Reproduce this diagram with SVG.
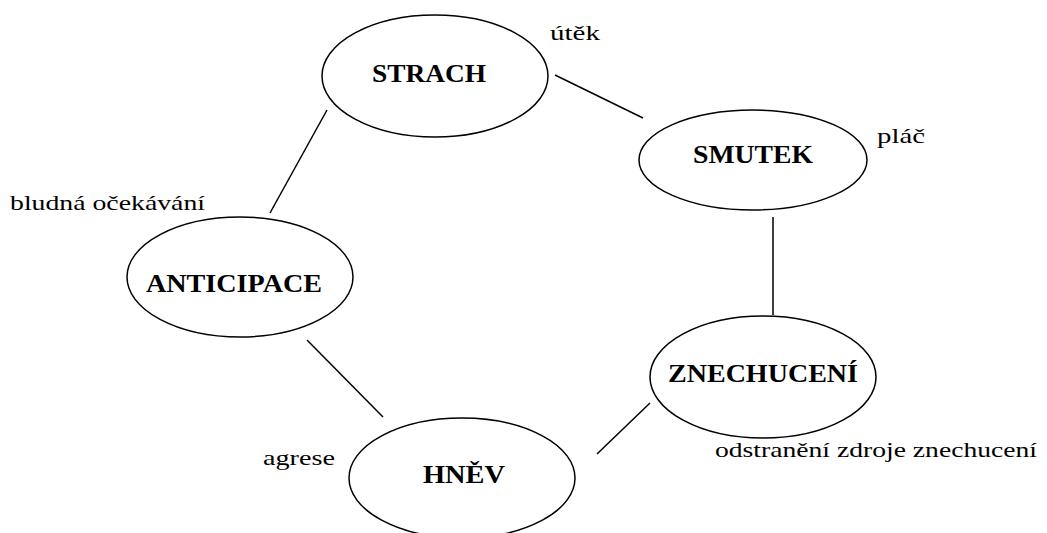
<svg xmlns="http://www.w3.org/2000/svg" width="1047" height="533" viewBox="0 0 1047 533">
<style>
.n{fill:none;stroke:#000;stroke-width:1.5}
.t{font-family:"Liberation Serif","Times New Roman",serif;font-weight:bold;font-size:25px;fill:#000;text-anchor:middle}
.l{font-family:"Liberation Serif","Times New Roman",serif;font-size:22px;fill:#000}
.c line{stroke:#000;stroke-width:1.5}
</style>
<rect width="1047" height="533" fill="#fff"/>
<g class="c" id="connectors">
<line x1="555" y1="75" x2="643" y2="118"/>
<line x1="327" y1="110" x2="270" y2="213"/>
<line x1="773" y1="217" x2="773" y2="315"/>
<line x1="307" y1="340" x2="383" y2="417"/>
<line x1="650" y1="403" x2="597" y2="454"/>
</g>
<g id="strach"><ellipse class="n" cx="435" cy="76" rx="113" ry="61"/><text class="t" x="429" y="82" textLength="114" lengthAdjust="spacingAndGlyphs">STRACH</text></g>
<g id="smutek"><ellipse class="n" cx="753" cy="160" rx="114" ry="50"/><text class="t" x="753" y="163" textLength="120" lengthAdjust="spacingAndGlyphs">SMUTEK</text></g>
<g id="anticipace"><ellipse class="n" cx="240" cy="277" rx="113" ry="60"/><text class="t" x="234" y="292" textLength="176" lengthAdjust="spacingAndGlyphs">ANTICIPACE</text></g>
<g id="hnev"><ellipse class="n" cx="462" cy="478" rx="113" ry="60"/><text class="t" x="464" y="483" textLength="82" lengthAdjust="spacingAndGlyphs">HNĚV</text></g>
<g id="znechuceni"><ellipse class="n" cx="763" cy="377" rx="113" ry="61"/><text class="t" x="763" y="382" textLength="190" lengthAdjust="spacingAndGlyphs">ZNECHUCENÍ</text></g>
<g id="labels">
<text class="l" x="550" y="40" textLength="50" lengthAdjust="spacingAndGlyphs">útěk</text>
<text class="l" x="877" y="143" textLength="48" lengthAdjust="spacingAndGlyphs">pláč</text>
<text class="l" x="10" y="210" textLength="195" lengthAdjust="spacingAndGlyphs">bludná očekávání</text>
<text class="l" x="263" y="465" textLength="72" lengthAdjust="spacingAndGlyphs">agrese</text>
<text class="l" x="715" y="457" textLength="322" lengthAdjust="spacingAndGlyphs">odstranění zdroje znechucení</text>
</g>
</svg>
